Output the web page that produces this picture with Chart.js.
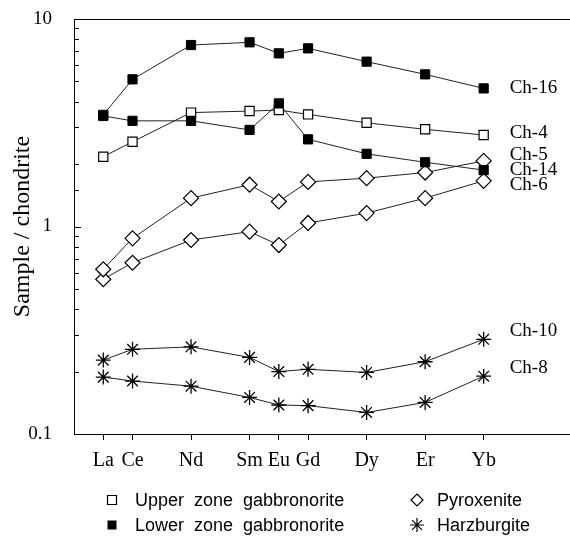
<!DOCTYPE html>
<html>
<head>
<meta charset="utf-8">
<script src="https://cdn.jsdelivr.net/npm/chart.js@4/dist/chart.umd.min.js"></script>
<style>
  html, body { margin: 0; padding: 0; background: #fff; overflow: hidden; }
  #wrap { width: 570px; height: 538px; }
</style>
</head>
<body>
<div id="wrap"><canvas id="reeChart"></canvas></div>
<script>
  // REE, по атомному номеру
  const elements = ["La", "Ce", "Nd", "Sm", "Eu", "Gd", "Dy", "Er", "Yb"];
  const atomicNo = [57, 58, 60, 62, 63, 64, 66, 68, 70];
  const yTickLabels = ["0.1", "1", "10"];

  // нормированные по хондриту значения
  const ch16 = [3.45, 5.12, 7.49, 7.72, 6.83, 7.22, 6.23, 5.41, 4.63];
  const ch14 = [3.41, 3.23, 3.23, 2.92, 3.92, 2.63, 2.24, 2.04, 1.87];
  const ch4  = [2.17, 2.56, 3.54, 3.60, 3.64, 3.47, 3.16, 2.94, 2.76];
  const ch5  = [0.622, 0.877, 1.37, 1.59, 1.32, 1.64, 1.71, 1.82, 2.07];
  const ch6  = [0.557, 0.669, 0.861, 0.944, 0.814, 1.04, 1.16, 1.37, 1.66];
  const ch10 = [0.227, 0.256, 0.263, 0.234, 0.200, 0.205, 0.198, 0.223, 0.286];
  const ch8  = [0.188, 0.180, 0.170, 0.150, 0.138, 0.137, 0.127, 0.142, 0.190];

  const serif = "'Liberation Serif', 'DejaVu Serif', serif";
  const sans = "'Liberation Sans', Arial, sans-serif";

  const pts = arr => arr.map((v, i) => ({ x: atomicNo[i], y: v }));
  const noPadding = () => ({ left: 0, top: 0, right: 0, bottom: 0 });

  // стили маркеров по типу породы
  const styles = {
    upper: { pointStyle: "rect", pointRadius: 6.5, pointBackgroundColor: "#fff", pointBorderWidth: 1.2 },
    lower: { pointStyle: "rect", pointRadius: 6.5, pointBackgroundColor: "#000", pointBorderWidth: 1 },
    pyrox: { pointStyle: "rectRot", pointRadius: 7.5, pointBackgroundColor: "#fff", pointBorderWidth: 1.2 },
    harz:  { pointStyle: "star", pointRadius: 7.5, pointBackgroundColor: "#000", pointBorderWidth: 1.3 }
  };

  function series(label, data, kind, dy) {
    return Object.assign({
      label: label,
      data: pts(data),
      borderColor: "#222",
      borderWidth: 1,
      pointBorderColor: "#000",
      pointHoverRadius: 7,
      tension: 0,
      fill: false,
      labelDy: dy
    }, styles[kind]);
  }

  // подписи образцов справа от Yb
  const sampleLabels = {
    id: "sampleLabels",
    afterDatasetsDraw(chart) {
      const ctx = chart.ctx;
      ctx.save();
      ctx.font = "19px " + serif;
      ctx.fillStyle = "#000";
      ctx.textAlign = "left";
      ctx.textBaseline = "middle";
      chart.data.datasets.forEach((ds, i) => {
        const meta = chart.getDatasetMeta(i);
        const last = meta.data[meta.data.length - 1];
        ctx.fillText(ds.label, last.x + 26, last.y + ds.labelDy);
      });
      ctx.restore();
    }
  };

  // рамка сверху/снизу до края и внутренние засечки по оси Y
  const frame = {
    id: "frame",
    afterDraw(chart) {
      const ctx = chart.ctx;
      const a = chart.chartArea;
      const ys = chart.scales.y;
      ctx.save();
      ctx.strokeStyle = "#000";
      ctx.lineWidth = 1;
      ctx.beginPath();
      ctx.moveTo(a.left, a.top + 0.5);
      ctx.lineTo(chart.width, a.top + 0.5);
      ctx.moveTo(a.right - 1, Math.round(a.bottom) + 0.5);
      ctx.lineTo(chart.width, Math.round(a.bottom) + 0.5);
      ys.ticks.forEach(t => {
        const py = Math.round(ys.getPixelForValue(t.value)) + 0.5;
        const major = Math.abs(Math.log10(t.value) - Math.round(Math.log10(t.value))) < 1e-6;
        ctx.moveTo(a.left, py);
        ctx.lineTo(a.left + (major ? 7 : 5), py);
      });
      ctx.stroke();
      ctx.restore();
    }
  };

  // легенда по типам пород, в две колонки
  const rockLegend = {
    id: "rockLegend",
    afterDraw(chart) {
      const ctx = chart.ctx;
      const items = [
        { kind: "upper", text: "Upper  zone  gabbronorite", mx: 112, tx: 135, y: 500 },
        { kind: "lower", text: "Lower  zone  gabbronorite", mx: 112, tx: 135, y: 525 },
        { kind: "pyrox", text: "Pyroxenite", mx: 417, tx: 437, y: 500 },
        { kind: "harz", text: "Harzburgite", mx: 417, tx: 437, y: 525 }
      ];
      ctx.save();
      ctx.font = "18px " + sans;
      ctx.textAlign = "left";
      ctx.textBaseline = "middle";
      items.forEach(it => {
        ctx.strokeStyle = "#000";
        ctx.fillStyle = "#000";
        ctx.lineWidth = 1.2;
        ctx.beginPath();
        if (it.kind === "upper") {
          ctx.rect(it.mx - 4.5, it.y - 4.5, 9, 9);
          ctx.fillStyle = "#fff";
          ctx.fill();
          ctx.stroke();
        } else if (it.kind === "lower") {
          ctx.rect(it.mx - 4.5, it.y - 4.5, 9, 9);
          ctx.fill();
        } else if (it.kind === "pyrox") {
          ctx.moveTo(it.mx, it.y - 6);
          ctx.lineTo(it.mx + 6, it.y);
          ctx.lineTo(it.mx, it.y + 6);
          ctx.lineTo(it.mx - 6, it.y);
          ctx.closePath();
          ctx.stroke();
        } else {
          for (let k = 0; k < 4; k++) {
            const ang = k * Math.PI / 4;
            const dx = Math.cos(ang) * 7, dy = Math.sin(ang) * 7;
            ctx.moveTo(it.mx - dx, it.y - dy);
            ctx.lineTo(it.mx + dx, it.y + dy);
          }
          ctx.stroke();
        }
        ctx.fillStyle = "#000";
        ctx.fillText(it.text, it.tx, it.y + 1);
      });
      ctx.restore();
    }
  };

  new Chart(document.getElementById("reeChart"), {
    type: "line",
    data: {
      datasets: [
        series("Ch-16", ch16, "lower", 0),
        series("Ch-14", ch14, "lower", 0),
        series("Ch-4", ch4, "upper", -2),
        series("Ch-5", ch5, "pyrox", -6),
        series("Ch-6", ch6, "pyrox", 4),
        series("Ch-10", ch10, "harz", -8),
        series("Ch-8", ch8, "harz", -8)
      ]
    },
    options: {
      responsive: true,
      maintainAspectRatio: false,
      animation: false,
      layout: { padding: { top: 19, right: 0, bottom: 0, left: 0 } },
      plugins: {
        legend: { display: false },
        tooltip: { enabled: true }
      },
      scales: {
        x: {
          type: "linear",
          min: 56,
          max: 72.65,
          afterBuildTicks: s => { s.ticks = atomicNo.map(v => ({ value: v })); },
          afterFit: s => { s.height = 104; s.getPadding = noPadding; },
          ticks: {
            autoSkip: false,
            maxRotation: 0,
            padding: 9,
            color: "#000",
            font: { family: serif, size: 20 },
            callback: v => elements[atomicNo.indexOf(v)] || ""
          },
          grid: { display: true, drawOnChartArea: false, drawTicks: true, tickLength: 6, color: "#000" },
          border: { display: true, color: "#000", width: 1 }
        },
        y: {
          type: "logarithmic",
          min: 0.1,
          max: 10,
          afterFit: s => { s.width = 74; s.getPadding = noPadding; },
          ticks: {
            autoSkip: false,
            padding: 14,
            color: "#000",
            font: { family: serif, size: 19 },
            callback: v => {
              const l = Math.log10(v);
              if (Math.abs(l - Math.round(l)) > 1e-6) return "";
              return yTickLabels[Math.round(l) + 1];
            }
          },
          grid: { display: false },
          border: { display: true, color: "#000", width: 1 },
          title: {
            display: true,
            text: "Sample / chondrite",
            color: "#000",
            font: { family: serif, size: 24 },
            padding: { top: 8, bottom: 0 }
          }
        }
      }
    },
    plugins: [sampleLabels, frame, rockLegend]
  });
</script>
</body>
</html>
